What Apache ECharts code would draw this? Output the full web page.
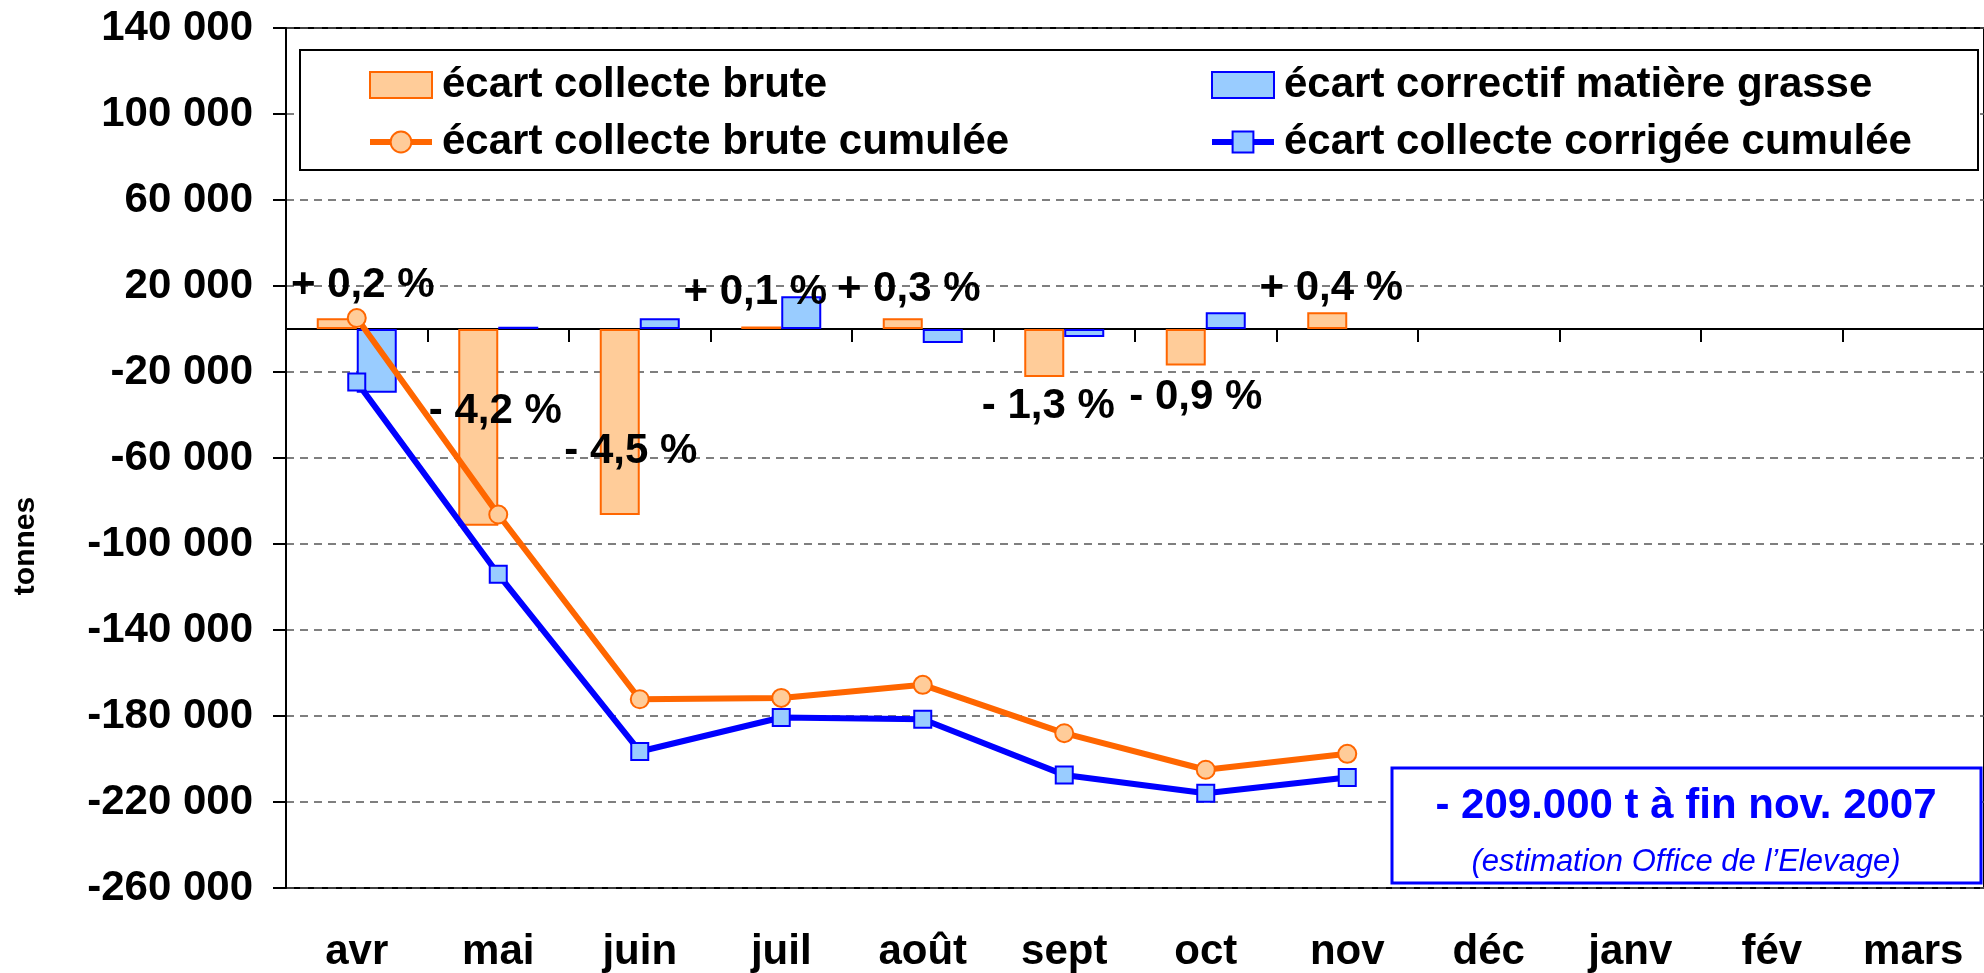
<!DOCTYPE html>
<html>
<head>
<meta charset="utf-8">
<title>écart collecte</title>
<script src="https://cdn.jsdelivr.net/npm/echarts@6/dist/echarts.min.js"></script>
<style>
  html, body { margin: 0; padding: 0; background: #fff; }
  #chart { width: 1984px; height: 973px; }
</style>
</head>
<body>
<div id="chart"></div>
<script>
// months of the campaign (avr -> mars)
const months = ['avr', 'mai', 'juin', 'juil', 'août', 'sept', 'oct', 'nov', 'déc', 'janv', 'fév', 'mars']

// monthly gaps, tonnes
const ecartBrute = [5000, -91500, -86500, 1200, 5000, -22300, -17000, 7800]
const ecartCorrectif = [-29700, 1000, 5000, 15200, -6500, -3700, 7800, null]

// cumulated gaps, tonnes
const cumulBrute = [5100, -86300, -172200, -171600, -165500, -188000, -205000, -197600]
const cumulCorrigee = [-24600, -114100, -196500, -180700, -181500, -207400, -215900, -208600]

// monthly % labels
const pctLabels = ['+ 0,2 %', '- 4,2 %', '- 4,5 %', '+ 0,1 %', '+ 0,3 %', '- 1,3 %', '- 0,9 %', '+ 0,4 %']

// y ticks
const yMin = -260000
const yMax = 140000
const yStep = 40000

// where the % labels sit (value level + small x shift), as placed on the original
const pctLevel = [20500, -38500, -57000, 17000, 18500, -36000, -32000, 19000]
const pctShift = [6, -3, -9, -26, -14, -16, -10, -16]

const FONT = '"Liberation Sans", Arial, sans-serif'
const ORANGE = '#FF6600'
const ORANGE_FILL = '#FFCC99'
const BLUE = '#0000FF'
const BLUE_FILL = '#99CCFF'

function fmtTonnes(v) {
  const s = String(Math.abs(v)).replace(/\B(?=(\d{3})+(?!\d))/g, ' ')
  return (v < 0 ? '-' : '') + s
}

const chart = echarts.init(document.getElementById('chart'))

const legendText = { fontFamily: FONT, fontWeight: 'bold', fontSize: 42, color: '#000', lineHeight: 46, padding: [0, 0, 0, 5] }

const option = {
  backgroundColor: '#fff',
  animation: false,
  grid: {
    left: 286, right: -12, top: 28, bottom: 84,
    show: true, borderColor: '#000', borderWidth: 2, backgroundColor: 'transparent'
  },
  legend: [
    {
      orient: 'vertical', left: 367, top: 62, padding: 0, itemGap: 11,
      itemWidth: 62, itemHeight: 26, z: 10,
      textStyle: legendText,
      data: [
        { name: 'écart collecte brute', icon: 'rect' },
        { name: 'écart collecte brute cumulée', lineStyle: { width: 6 } }
      ]
    },
    {
      orient: 'vertical', left: 1209, top: 62, padding: 0, itemGap: 11,
      itemWidth: 62, itemHeight: 26, z: 10,
      textStyle: legendText,
      data: [
        { name: 'écart correctif matière grasse', icon: 'rect' },
        { name: 'écart collecte corrigée cumulée', lineStyle: { width: 6 } }
      ]
    }
  ],
  xAxis: [
    {
      type: 'category', data: months, position: 'bottom',
      axisLine: { show: false, onZero: false },
      axisTick: { show: false },
      axisLabel: { fontFamily: FONT, fontWeight: 'bold', fontSize: 42, color: '#000', margin: 43 },
      splitLine: { show: false }
    },
    {
      type: 'category', data: months, position: 'bottom',
      axisLine: { show: true, onZero: true, lineStyle: { color: '#000', width: 2 } },
      axisTick: { show: true, length: 13, lineStyle: { color: '#000', width: 2 } },
      axisLabel: { show: false },
      splitLine: { show: false }
    }
  ],
  yAxis: {
    type: 'value', min: yMin, max: yMax, interval: yStep,
    axisLine: { show: true, lineStyle: { color: '#000', width: 2 } },
    axisTick: { show: true, length: 13, lineStyle: { color: '#000', width: 2 } },
    axisLabel: {
      fontFamily: FONT, fontWeight: 'bold', fontSize: 42, color: '#000', margin: 33,
      formatter: fmtTonnes
    },
    splitLine: { show: true, lineStyle: { color: '#555', width: 1.5, type: [8, 6] } }
  },
  series: [
    {
      name: 'écart collecte brute', type: 'bar', data: ecartBrute,
      barWidth: 40, barGap: '0%',
      itemStyle: { color: ORANGE_FILL, borderColor: ORANGE, borderWidth: 2 }
    },
    {
      name: 'écart correctif matière grasse', type: 'bar', data: ecartCorrectif,
      barWidth: 40, barGap: '0%',
      itemStyle: { color: BLUE_FILL, borderColor: BLUE, borderWidth: 2 }
    },
    {
      name: 'écart collecte brute cumulée', type: 'line', data: cumulBrute,
      symbol: 'circle', symbolSize: 18, z: 4,
      lineStyle: { color: ORANGE, width: 6 },
      itemStyle: { color: ORANGE_FILL, borderColor: ORANGE, borderWidth: 2 }
    },
    {
      name: 'écart collecte corrigée cumulée', type: 'line', data: cumulCorrigee,
      symbol: 'rect', symbolSize: 17, z: 4,
      lineStyle: { color: BLUE, width: 6 },
      itemStyle: { color: BLUE_FILL, borderColor: BLUE, borderWidth: 2 }
    },
    {
      // % labels
      name: 'pct', type: 'scatter', symbolSize: 0, silent: true, z: 6,
      itemStyle: { opacity: 1 },
      data: pctLevel.map((v, i) => [i, v]),
      label: {
        show: true, position: 'inside',
        formatter: p => pctLabels[p.dataIndex],
        fontFamily: FONT, fontWeight: 'bold', fontSize: 42, color: '#000'
      },
      labelLayout: p => ({ dx: pctShift[p.dataIndex] })
    }
  ],
  graphic: [
    {
      // legend frame
      type: 'rect', z: 3,
      shape: { x: 300, y: 50, width: 1678, height: 120 },
      style: { fill: '#fff', stroke: '#000', lineWidth: 2 }
    },
    {
      type: 'text', x: 26, y: 546, rotation: Math.PI / 2,
      style: { text: 'tonnes', fontFamily: FONT, fontWeight: 'bold', fontSize: 30, fill: '#000', align: 'center', verticalAlign: 'middle' }
    },
    {
      type: 'rect', z: 5,
      shape: { x: 1392, y: 768, width: 589, height: 115 },
      style: { fill: '#fff', stroke: BLUE, lineWidth: 3 }
    },
    {
      type: 'text', z: 6, x: 1686, y: 806,
      style: { text: '- 209.000 t à fin nov. 2007', fontFamily: FONT, fontWeight: 'bold', fontSize: 42, fill: BLUE, align: 'center', verticalAlign: 'middle' }
    },
    {
      type: 'text', z: 6, x: 1686, y: 862,
      style: { text: '(estimation Office de l’Elevage)', fontFamily: FONT, fontStyle: 'italic', fontSize: 31, fill: BLUE, align: 'center', verticalAlign: 'middle' }
    }
  ]
}

chart.setOption(option)
</script>
</body>
</html>
